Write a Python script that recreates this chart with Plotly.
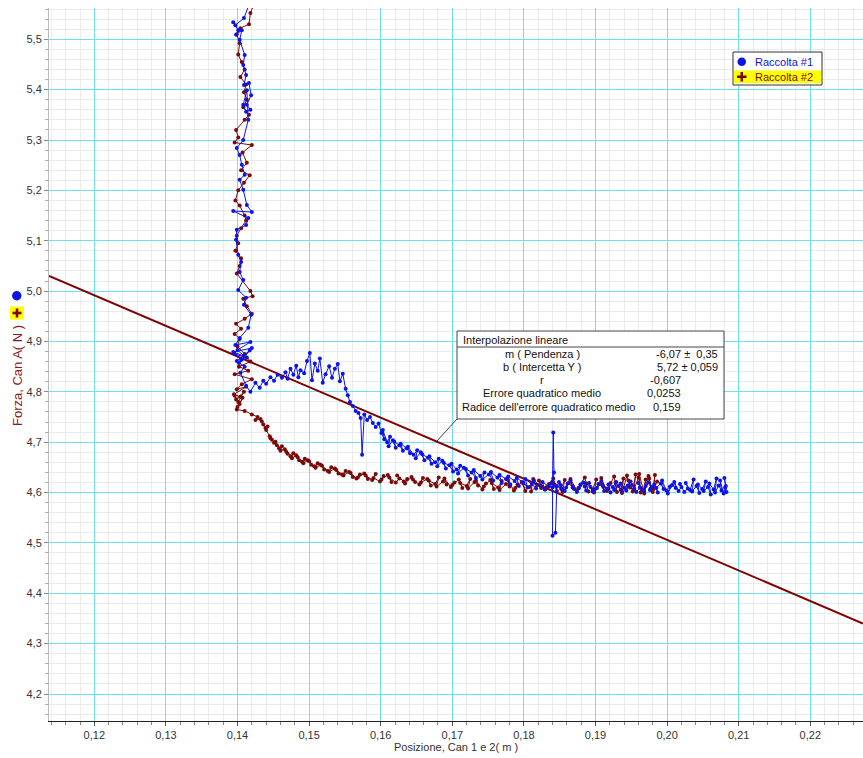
import plotly.graph_objects as go

# ---------------- data ----------------
blue_x = [0.1416,0.1409,0.1397,0.1394,0.1401,0.1398,0.1406,0.1403,0.1410,0.1408,0.1412,0.1409,0.1416,0.1419,0.1413,0.1418,0.1412,0.1408,0.1413,0.1415,
          0.1408,0.1399,0.1403,0.1406,0.1410,0.1403,0.1408,0.1413,0.1420,0.1394,0.1415,0.1412,0.1399,0.1398,0.1401,0.1405,0.1403,0.1408,0.1401,0.1412,
          0.1409,0.1419,0.1415,0.1403,0.1397,0.1418,0.1400,0.1409,0.1394,0.1420,0.1405,0.1396,0.1413,0.1402,0.1417,0.1399,0.1410,0.1404,
          0.1412,0.1418,0.1425,0.1431,0.1436,0.1440,0.1446,0.1451,0.1456,0.1462,0.1467,0.1470,0.1474,0.1478,0.1482,0.1485,0.1488,0.1493,0.1497,0.1501,
          0.1504,0.1508,0.1512,0.1515,0.1519,0.1523,0.1528,0.1532,0.1536,0.1540,
          0.1543,0.1547,0.1551,0.1554,0.1557,0.1561,0.1565,0.1569,0.1572,0.1574,0.1577,0.1581,0.1585,0.1589,0.1593,0.1597,
          0.1601,0.1605,0.1603,0.1609,0.1613,0.1611,0.1617,0.1621,0.1619,0.1626,
          0.1631,0.1628,0.1636,0.1641,0.1638,0.1646,0.1651,0.1649,0.1656,0.1661,
          0.1658,0.1666,0.1671,0.1668,0.1676,0.1681,0.1679,0.1686,0.1691,0.1688,
          0.1696,0.1701,0.1699,0.1706,0.1711,0.1708,0.1716,0.1722,0.1719,0.1727,
          0.1733,0.1730,0.1739,0.1745,0.1742,0.1751,0.1757,0.1754,0.1763,0.1769,
          0.1766,0.1775,0.1781,0.1778,0.1787,0.1793,0.1790,0.1799,0.1805,0.1802,
          0.1811,0.1817,0.1814,0.1823,0.1829,0.1826,0.1835,0.1838,
          0.1840,0.1841,0.1842,0.1840,0.1840,0.1844,0.1845,
          0.1846,0.1849,0.1853,0.1851,0.1857,0.1861,0.1859,0.1865,0.1870,0.1868,
          0.1874,0.1879,0.1877,0.1883,0.1887,0.1885,0.1891,0.1896,0.1893,0.1899,
          0.1904,0.1902,0.1908,0.1912,0.1910,0.1916,0.1921,0.1918,0.1924,0.1929,
          0.1926,0.1932,0.1937,0.1935,0.1941,0.1945,0.1943,0.1949,0.1954,0.1951,
          0.1957,0.1962,0.1960,0.1966,0.1970,0.1968,0.1974,0.1979,0.1976,0.1982,
          0.1987,0.1985,0.1991,0.1995,0.1993,0.1999,0.2004,0.2001,0.2007,0.2012,
          0.2010,0.2016,0.2020,0.2018,0.2024,0.2029,0.2026,0.2032,0.2037,0.2035,
          0.2041,0.2045,0.2043,0.2049,0.2054,0.2051,0.2057,0.2061,0.2059,0.2065,
          0.2069,0.2067,0.2072,0.2076,0.2074,0.2079,0.2082,0.2080,0.2083,0.2081]
blue_y = [5.568,5.542,5.528,5.534,5.518,5.509,5.518,5.499,5.469,5.449,5.429,5.409,5.413,5.389,5.370,5.360,5.356,5.370,5.399,5.340,
          5.300,5.284,5.270,5.251,5.231,5.221,5.201,5.171,5.157,5.159,5.145,5.131,5.122,5.102,5.072,5.058,5.038,5.022,5.002,4.987,
          4.973,4.953,4.927,4.907,4.893,4.899,4.883,4.871,4.879,4.887,4.863,4.875,4.868,4.857,4.882,4.861,4.850,4.838,
          4.812,4.800,4.818,4.808,4.822,4.816,4.829,4.822,4.834,4.828,4.839,4.826,4.846,4.834,4.852,4.829,4.843,4.837,4.861,4.877,
          4.823,4.856,4.842,4.866,4.818,4.835,4.851,4.828,4.846,4.855,
          4.821,4.836,4.806,4.793,4.780,4.772,4.762,4.758,4.748,4.675,4.755,4.744,4.750,4.738,4.730,4.737,
          4.718,4.706,4.724,4.700,4.711,4.692,4.704,4.689,4.701,4.694,
          4.683,4.697,4.688,4.678,4.691,4.675,4.684,4.668,4.680,4.664,
          4.676,4.669,4.657,4.672,4.660,4.667,4.652,4.663,4.648,4.659,
          4.654,4.642,4.657,4.646,4.653,4.638,4.649,4.634,4.647,4.640,
          4.629,4.645,4.633,4.640,4.626,4.636,4.624,4.641,4.630,4.619,
          4.635,4.627,4.616,4.632,4.623,4.613,4.629,4.620,4.610,4.627,
          4.617,4.608,4.624,4.614,4.606,4.621,4.612,4.618,
          4.622,4.719,4.640,4.610,4.514,4.520,4.612,
          4.612,4.621,4.606,4.615,4.603,4.618,4.610,4.624,4.607,4.613,
          4.601,4.616,4.609,4.620,4.604,4.612,4.619,4.602,4.611,4.606,
          4.617,4.609,4.623,4.603,4.614,4.608,4.600,4.616,4.611,4.621,
          4.605,4.613,4.602,4.618,4.609,4.614,4.604,4.622,4.608,4.615,
          4.601,4.610,4.619,4.606,4.613,4.603,4.620,4.611,4.605,4.616,
          4.600,4.609,4.618,4.607,4.624,4.604,4.612,4.598,4.615,4.609,
          4.621,4.603,4.611,4.617,4.601,4.608,4.619,4.605,4.626,4.602,
          4.613,4.599,4.616,4.607,4.622,4.603,4.611,4.596,4.618,4.606,
          4.628,4.600,4.614,4.604,4.624,4.598,4.613,4.629,4.601,4.610]

red_x = [0.1423,0.1418,0.1416,0.1404,0.1399,0.1403,0.1401,0.1406,0.1410,0.1404,0.1412,0.1409,0.1413,0.1408,0.1416,0.1410,0.1398,0.1401,0.1396,0.1420,
         0.1407,0.1413,0.1405,0.1417,0.1409,0.1401,0.1397,0.1403,0.1410,0.1412,0.1405,0.1399,0.1401,0.1397,0.1405,0.1403,0.1399,0.1418,0.1421,0.1408,
         0.1413,0.1420,0.1410,0.1398,0.1405,0.1396,0.1403,0.1400,0.1410,0.1418,0.1402,0.1415,0.1396,0.1420,0.1406,0.1399,0.1412,0.1395,0.1404,0.1398,
         0.1409,0.1401,0.1396,0.1403,0.1407,0.1400,0.1399,
         0.1410,0.1420,0.1428,
         0.1425,0.1432,0.1436, 0.1434,0.1439,0.1442, 0.1440,0.1445,0.1448, 0.1446,0.1451,0.1455, 0.1453,0.1458,0.1462,
         0.1460,0.1466,0.1470, 0.1468,0.1474,0.1478, 0.1476,0.1482,0.1486, 0.1484,0.1490,0.1494, 0.1492,0.1498,0.1503,
         0.1500,0.1507,0.1512, 0.1509,0.1516,0.1521, 0.1518,0.1526,0.1531, 0.1528,0.1536,0.1541, 0.1538,0.1546,0.1551,
         0.1548,0.1556,0.1561, 0.1558,0.1566,0.1571, 0.1568,0.1577,0.1582, 0.1579,0.1588,0.1593, 0.1590,0.1599,0.1604,
         0.1601,0.1610,0.1615, 0.1612,0.1621,0.1626, 0.1623,0.1632,0.1637, 0.1634,0.1643,0.1648, 0.1645,0.1654,0.1659,
         0.1656,0.1665,0.1670, 0.1667,0.1676,0.1681, 0.1678,0.1687,0.1692, 0.1689,0.1698,0.1703, 0.1700,0.1709,0.1714,
         0.1711,0.1720,0.1725, 0.1722,0.1731,0.1736, 0.1733,0.1742,0.1747, 0.1744,0.1753,0.1758, 0.1755,0.1764,0.1769,
         0.1766,0.1775,0.1780, 0.1777,0.1786,0.1791, 0.1788,0.1797,0.1802, 0.1799,0.1808,0.1813, 0.1810,0.1819,0.1824,
         0.1821,0.1830,0.1835, 0.1832,0.1841,0.1846, 0.1843,0.1852,0.1857, 0.1854,0.1863,0.1868, 0.1865,0.1874,0.1879,
         0.1876,0.1885,0.1890, 0.1887,0.1896,0.1901, 0.1898,0.1906,0.1911, 0.1908,0.1916,0.1921, 0.1918,0.1926,0.1930,
         0.1928,0.1935,0.1939, 0.1937,0.1944,0.1948, 0.1946,0.1952,0.1956, 0.1954,0.1960,0.1963, 0.1961,0.1967,0.1970,
         0.1968,0.1974,0.1977, 0.1975,0.1980,0.1983,
         0.1981,0.1986]
red_y = [5.570,5.552,5.530,5.522,5.510,5.492,5.470,5.455,5.440,5.425,5.410,5.395,5.380,5.365,5.350,5.340,5.320,5.305,5.295,5.290,
         5.275,5.255,5.240,5.230,5.215,5.200,5.180,5.170,5.150,5.140,5.125,5.110,5.095,5.080,5.065,5.050,5.035,5.000,4.990,4.985,
         4.970,4.955,4.945,4.935,4.925,4.915,4.905,4.890,4.875,4.860,4.850,4.842,4.835,4.825,4.815,4.805,4.810,4.795,4.790,4.785,
         4.800,4.780,4.792,4.776,4.788,4.770,4.765,
         4.762,4.755,4.750,
         4.744,4.746,4.735, 4.741,4.728,4.731, 4.724,4.712,4.705, 4.708,4.699,4.694, 4.701,4.688,4.692,
         4.683,4.686,4.677, 4.681,4.672,4.678, 4.668,4.674,4.664, 4.670,4.661,4.667, 4.658,4.664,4.655,
         4.662,4.652,4.658, 4.649,4.655,4.646, 4.653,4.643,4.650, 4.641,4.648,4.638, 4.645,4.636,4.643,
         4.634,4.641,4.631, 4.639,4.628,4.636, 4.630,4.638,4.627, 4.634,4.625,4.637, 4.629,4.622,4.633,
         4.626,4.635,4.621, 4.630,4.620,4.628, 4.634,4.622,4.627, 4.618,4.631,4.621, 4.626,4.616,4.629,
         4.620,4.627,4.614, 4.624,4.617,4.630, 4.612,4.622,4.616, 4.628,4.611,4.620, 4.615,4.626,4.609,
         4.619,4.613,4.627, 4.608,4.621,4.614, 4.624,4.606,4.618, 4.612,4.625,4.607, 4.619,4.610,4.623,
         4.605,4.617,4.612, 4.626,4.604,4.616, 4.609,4.621,4.603, 4.618,4.611,4.627, 4.602,4.615,4.609,
         4.624,4.606,4.617, 4.611,4.628,4.603, 4.616,4.608,4.625, 4.601,4.619,4.610, 4.627,4.604,4.615,
         4.609,4.630,4.602, 4.618,4.606,4.626, 4.600,4.617,4.611, 4.629,4.603,4.619, 4.608,4.632,4.601,
         4.620,4.605,4.628, 4.599,4.634,4.610, 4.624,4.602,4.636, 4.606,4.630,4.600, 4.637,4.604,4.626,
         4.598,4.633,4.608, 4.628,4.601,4.635,
         4.607,4.622]

fit_slope = -6.07
fit_intercept = 5.72

series_names = ["Raccolta #1", "Raccolta #2"]
x_title = "Posizione, Can 1 e 2( m )"
y_title = "Forza, Can A( N )"
fit_title = "Interpolazione lineare"
fit_labels = ["m ( Pendenza )", "b ( Intercetta Y )", "r", "Errore quadratico medio", "Radice dell'errore quadratico medio"]
fit_values = ["-6,07 ±  0,35", "5,72 ± 0,059", "-0,607", "0,0253", "0,159"]

x_range = [0.11367, 0.22736]
y_range = [4.1464, 5.5621]

# ---------------- figure ----------------
BLUE = "#0a14e6"
RED = "#7a0a0a"
W, H = 863, 758
L, T, B = 49, 8, 37
PW, PH = W - L, H - T - B

def pxx(xp):
    return (xp - L) / PW

def pxy(yp):
    return (H - B - yp) / PH

fig = go.Figure()

fig.add_trace(go.Scatter(x=x_range, y=[fit_intercept + fit_slope * v for v in x_range],
                         mode="lines", line=dict(color="#800000", width=2), showlegend=False))
fig.add_trace(go.Scatter(x=red_x, y=red_y, mode="lines+markers", name=series_names[1],
                         line=dict(color=RED, width=1), marker=dict(color=RED, size=4), showlegend=False))
fig.add_trace(go.Scatter(x=blue_x, y=blue_y, mode="lines+markers", name=series_names[0],
                         line=dict(color=BLUE, width=1), marker=dict(color=BLUE, size=4), showlegend=False))

FONT = "Liberation Sans, Arial, sans-serif"
CYAN = "#6fe2ee"
MINOR = "#ebebeb"

fig.update_layout(
    width=W, height=H,
    margin=dict(l=L, r=0, t=T, b=B, pad=0, autoexpand=False),
    paper_bgcolor="white", plot_bgcolor="white",
    separators=", ",
    font=dict(family=FONT, size=11, color="#222"),
    showlegend=False,
    xaxis=dict(range=x_range, tick0=0.12, dtick=0.01, tickformat=".2f", automargin=False,
               showgrid=True, gridcolor=CYAN, gridwidth=1, zeroline=False,
               showline=True, linecolor="#222", linewidth=1,
               ticks="outside", ticklen=4, tickcolor="#555",
               minor=dict(dtick=0.002, showgrid=True, gridcolor=MINOR, ticks="outside", ticklen=3, tickcolor="#888"),
               title=dict(text=x_title, font=dict(size=11, color="#333"), standoff=0),
               tickfont=dict(size=11, color="#333")),
    yaxis=dict(range=y_range, tick0=4.2, dtick=0.1, tickformat=".1f", automargin=False,
               showgrid=True, gridcolor=CYAN, gridwidth=1, zeroline=False,
               showline=True, linecolor="#bbb", linewidth=1,
               ticks="outside", ticklen=4, tickcolor="#888",
               minor=dict(dtick=0.02, showgrid=True, gridcolor=MINOR, ticks="outside", ticklen=3, tickcolor="#aaa"),
               tickfont=dict(size=11, color="#333")),
)

shapes = []
annos = []

# y axis title (as rotated text)
annos.append(dict(x=pxx(17), y=pxy(376), xref="paper", yref="paper", text=y_title, showarrow=False, textangle=-90,
                  xanchor="center", yanchor="middle", font=dict(size=13, color="#8b1a1a", family=FONT)))

# legend box
shapes.append(dict(type="rect", xref="paper", yref="paper", x0=pxx(733), x1=pxx(822), y0=pxy(52), y1=pxy(85),
                   fillcolor="white", line=dict(color="#333", width=1), layer="above"))
shapes.append(dict(type="rect", xref="paper", yref="paper", x0=pxx(734), x1=pxx(821), y0=pxy(70.5), y1=pxy(83),
                   fillcolor="#ffff00", line=dict(width=0), layer="above"))
shapes.append(dict(type="circle", xref="paper", yref="paper", x0=pxx(737.5), x1=pxx(746), y0=pxy(57.5), y1=pxy(66),
                   fillcolor=BLUE, line=dict(width=0), layer="above"))
shapes.append(dict(type="rect", xref="paper", yref="paper", x0=pxx(737), x1=pxx(746.5), y0=pxy(75.5), y1=pxy(78),
                   fillcolor=RED, line=dict(width=0), layer="above"))
shapes.append(dict(type="rect", xref="paper", yref="paper", x0=pxx(740.5), x1=pxx(743), y0=pxy(72), y1=pxy(81.5),
                   fillcolor=RED, line=dict(width=0), layer="above"))
annos.append(dict(x=pxx(753), y=pxy(62), xref="paper", yref="paper", text=series_names[0], showarrow=False,
                  xanchor="left", yanchor="middle", font=dict(size=11, color=BLUE, family=FONT)))
annos.append(dict(x=pxx(753), y=pxy(77), xref="paper", yref="paper", text=series_names[1], showarrow=False,
                  xanchor="left", yanchor="middle", font=dict(size=11, color=RED, family=FONT)))

# axis-side markers
shapes.append(dict(type="circle", xref="paper", yref="paper", x0=pxx(12), x1=pxx(21.5), y0=pxy(291), y1=pxy(300.5),
                   fillcolor=BLUE, line=dict(width=0), layer="above"))
shapes.append(dict(type="rect", xref="paper", yref="paper", x0=pxx(10), x1=pxx(24), y0=pxy(306.5), y1=pxy(319.5),
                   fillcolor="#ffff00", line=dict(width=0), layer="above"))
shapes.append(dict(type="rect", xref="paper", yref="paper", x0=pxx(12.5), x1=pxx(21.5), y0=pxy(311.7), y1=pxy(314.3),
                   fillcolor=RED, line=dict(width=0), layer="above"))
shapes.append(dict(type="rect", xref="paper", yref="paper", x0=pxx(15.7), x1=pxx(18.3), y0=pxy(308.5), y1=pxy(317.5),
                   fillcolor=RED, line=dict(width=0), layer="above"))

# fit statistics box
shapes.append(dict(type="line", xref="paper", yref="paper", x0=pxx(457), x1=pxx(437), y0=pxy(419), y1=pxy(441),
                   line=dict(color="#444", width=1), layer="above"))
shapes.append(dict(type="rect", xref="paper", yref="paper", x0=pxx(457), x1=pxx(724), y0=pxy(331), y1=pxy(419),
                   fillcolor="white", line=dict(color="#444", width=1), layer="above"))
shapes.append(dict(type="line", xref="paper", yref="paper", x0=pxx(457), x1=pxx(724), y0=pxy(347), y1=pxy(347),
                   line=dict(color="#444", width=1), layer="above"))
annos.append(dict(x=pxx(461), y=pxy(340), xref="paper", yref="paper", text=fit_title, showarrow=False,
                  xanchor="left", yanchor="middle", font=dict(size=11, color="#111", family=FONT)))
row_y = [354, 367, 380, 393, 406.5]
for i, (lab, val) in enumerate(zip(fit_labels, fit_values)):
    if i == len(fit_labels) - 1:
        annos.append(dict(x=pxx(460), y=pxy(row_y[i]), xref="paper", yref="paper", text=lab, showarrow=False,
                          xanchor="left", yanchor="middle", font=dict(size=11, color="#111", family=FONT)))
    else:
        annos.append(dict(x=pxx(542), y=pxy(row_y[i]), xref="paper", yref="paper", text=lab, showarrow=False,
                          xanchor="center", yanchor="middle", font=dict(size=11, color="#111", family=FONT)))
    xr = 720 if i < 2 else 683
    annos.append(dict(x=pxx(xr), y=pxy(row_y[i]), xref="paper", yref="paper", text=val, showarrow=False,
                      xanchor="right", yanchor="middle", font=dict(size=11, color="#111", family=FONT)))

fig.update_layout(shapes=shapes, annotations=annos)
fig.write_html("out.html", config={"displayModeBar": False},
               post_script="document.body.style.margin='0px';document.body.style.padding='0px';")
